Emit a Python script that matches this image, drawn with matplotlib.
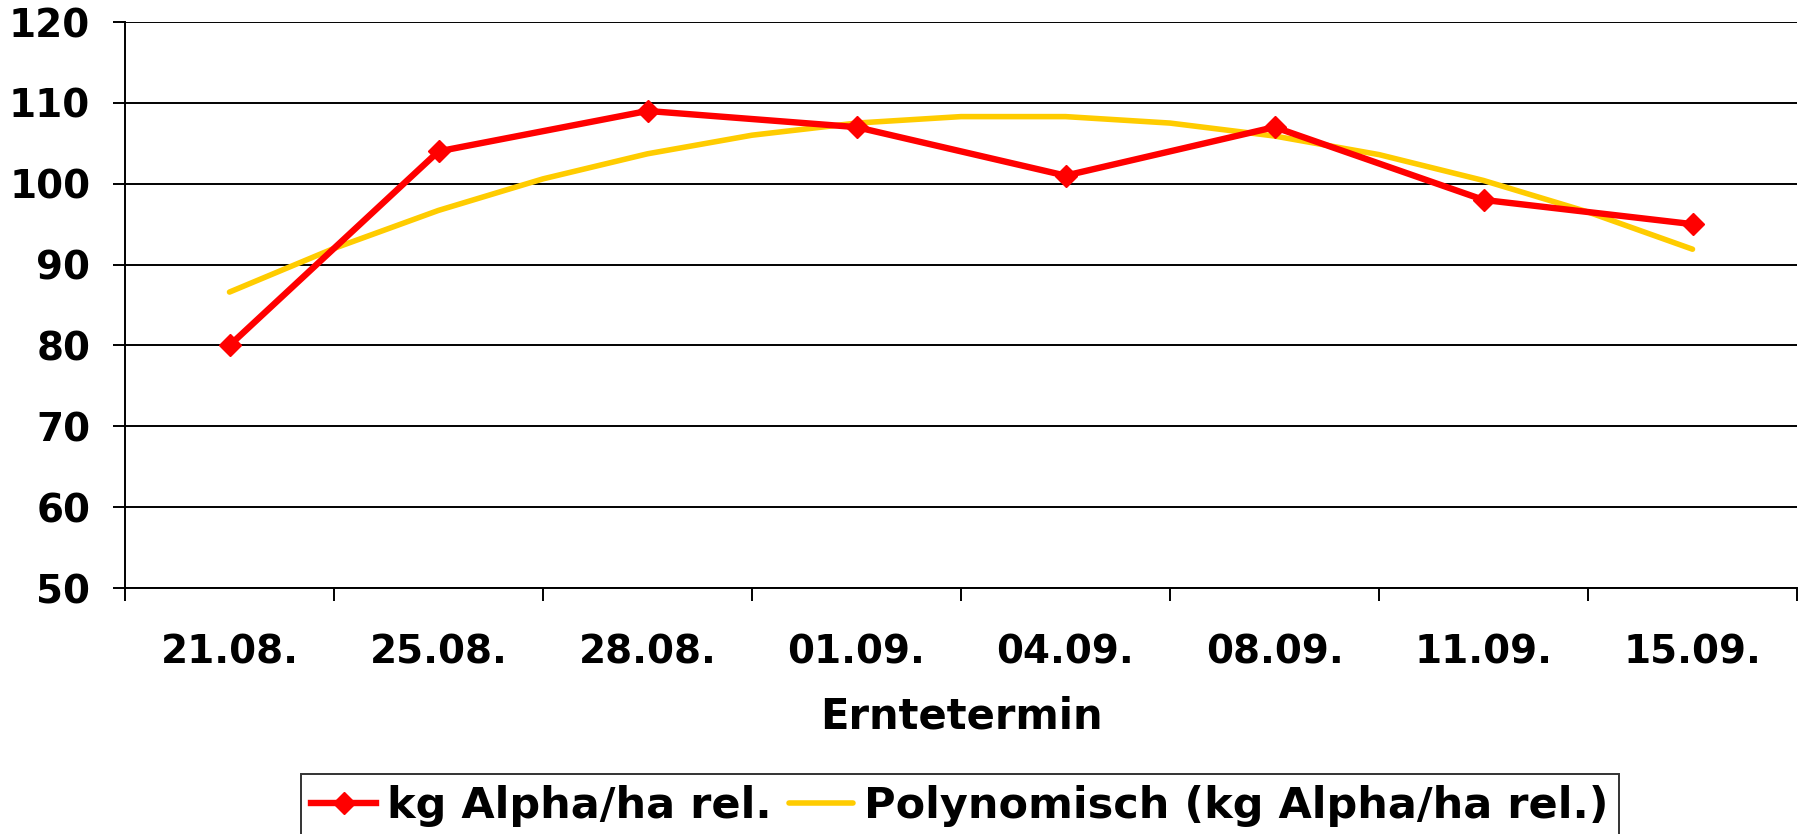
import matplotlib
matplotlib.use("Agg")
import matplotlib.pyplot as plt
from matplotlib.ticker import FixedLocator

categories = ["21.08.", "25.08.", "28.08.", "01.09.", "04.09.", "08.09.", "11.09.", "15.09."]
alpha_rel = [80, 104, 109, 107, 101, 107, 98, 95]
# trend line (polynomial) at every half category step
trend_pos = [1, 1.5, 2, 2.5, 3, 3.5, 4, 4.5, 5, 5.5, 6, 6.5, 7, 7.5, 8]
trend_vals = [86.6, 92.0, 96.7, 100.6, 103.7, 106.0, 107.5, 108.3,
              108.3, 107.5, 105.9, 103.6, 100.4, 96.5, 91.9]
y_ticks = [50, 60, 70, 80, 90, 100, 110, 120]

W, H = 1805, 834
fig = plt.figure(figsize=(W / 100, H / 100), dpi=100)
ax = fig.add_axes([125 / W, 1 - 588 / H, (1797 - 125) / W, (588 - 22) / H])

x = list(range(1, len(categories) + 1))
ax.plot(trend_pos, trend_vals, color="#FFCC00", lw=4.0, solid_capstyle="round",
        solid_joinstyle="round", label="Polynomisch (kg Alpha/ha rel.)", zorder=3)
ax.plot(x, alpha_rel, color="#FF0000", lw=4.6, marker="D", markersize=11,
        label="kg Alpha/ha rel.", zorder=4)

ax.set_xlim(0.5, len(categories) + 0.5)
ax.set_ylim(50, 120)
ax.set_yticks(y_ticks)
ax.set_yticklabels([str(v) for v in y_ticks])
ax.yaxis.grid(True, color="black", lw=1.4)
ax.set_axisbelow(True)

ax.set_xticks(x)
ax.set_xticklabels(categories)
ax.xaxis.set_minor_locator(FixedLocator([i + 0.5 for i in range(0, len(categories) + 1)]))
ax.tick_params(axis="x", which="major", length=0, pad=33)
ax.tick_params(axis="x", which="minor", length=9, width=1.4, direction="out")
ax.tick_params(axis="y", which="major", length=9, width=1.4, direction="out", pad=16)

for lab in ax.get_xticklabels() + ax.get_yticklabels():
    lab.set_fontsize(28)
    lab.set_fontweight("bold")
    lab.set_fontfamily("DejaVu Sans")

for s in ["top", "right"]:
    ax.spines[s].set_visible(False)
for s in ["left", "bottom"]:
    ax.spines[s].set_linewidth(1.4)

ax.set_xlabel("Erntetermin", fontsize=30, fontweight="bold", labelpad=17)

handles, labels = ax.get_legend_handles_labels()
leg = fig.legend(handles[::-1], labels[::-1], loc="upper center",
                 bbox_to_anchor=(960 / W, 1 - 774 / H), ncol=2,
                 frameon=True, fancybox=False, edgecolor="black",
                 prop={"size": 31, "weight": "bold"},
                 handlelength=1.5, handletextpad=0.25, columnspacing=0.4,
                 borderpad=0.25, borderaxespad=0)
leg.get_frame().set_linewidth(1.4)

fig.savefig("out.png", dpi=100)
